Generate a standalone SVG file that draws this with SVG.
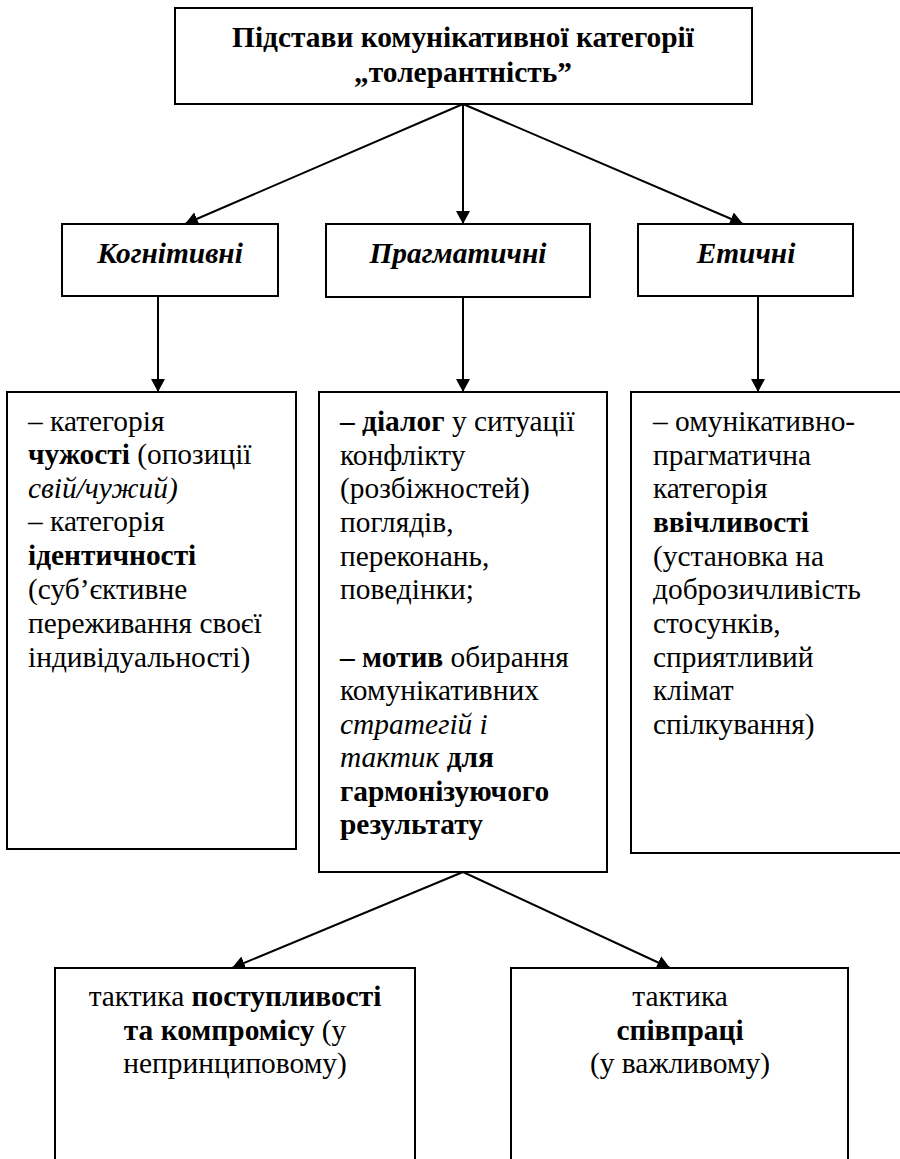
<svg xmlns="http://www.w3.org/2000/svg" width="900" height="1159" viewBox="0 0 900 1159">
<defs>
<marker id="ah" viewBox="0 0 13 14" refX="13" refY="7" markerWidth="13" markerHeight="14" markerUnits="userSpaceOnUse" orient="auto">
<path d="M0,0 L13,7 L0,14 z" fill="#000"/>
</marker>
<style>
.box{fill:#fff;stroke:#000;stroke-width:2}
text{font-family:'Liberation Serif','Times New Roman',serif;font-size:29.4px;fill:#000}
.b{font-weight:bold}
.i{font-style:italic}
.c{font-weight:bold;font-style:italic}
.m{text-anchor:middle}
.con{stroke:#000;stroke-width:2;fill:none;marker-end:url(#ah)}
</style>
</defs>
<rect width="900" height="1159" fill="#fff"/>
<g id="connectors">
<line class="con" x1="463" y1="104" x2="185" y2="224"/>
<line class="con" x1="463" y1="104" x2="463" y2="224"/>
<line class="con" x1="463" y1="104" x2="743" y2="224"/>
<line class="con" x1="158" y1="296" x2="158" y2="392"/>
<line class="con" x1="463" y1="297" x2="463" y2="392"/>
<line class="con" x1="758" y1="296" x2="758" y2="392"/>
<line class="con" x1="463" y1="872" x2="232" y2="968"/>
<line class="con" x1="463" y1="872" x2="670" y2="968"/>
</g>
<g id="root">
<rect class="box" x="175" y="8" width="577" height="96"/>
<text class="b m" x="463" y="47">Підстави комунікативної категорії</text>
<text class="b m" x="463" y="82">„толерантність”</text>
</g>
<g id="cognitive">
<rect class="box" x="62" y="224" width="216" height="72"/>
<text class="c m" x="170" y="263">Когнітивні</text>
</g>
<g id="pragmatic">
<rect class="box" x="326" y="224" width="264" height="73"/>
<text class="c m" x="458" y="263">Прагматичні</text>
</g>
<g id="ethical">
<rect class="box" x="638" y="224" width="215" height="72"/>
<text class="c m" x="746" y="263">Етичні</text>
</g>
<g id="cognitive-detail">
<rect class="box" x="7" y="392" width="289" height="457"/>
<text x="28" y="431">– категорія</text>
<text x="28" y="464"><tspan class="b">чужості</tspan> (опозиції</text>
<text x="28" y="498"><tspan class="i">свій/чужий)</tspan></text>
<text x="28" y="531">– категорія</text>
<text class="b" x="28" y="565">ідентичності</text>
<text x="28" y="599">(суб’єктивне</text>
<text x="28" y="633">переживання своєї</text>
<text x="28" y="667">індивідуальності)</text>
</g>
<g id="pragmatic-detail">
<rect class="box" x="319" y="392" width="288" height="480"/>
<text x="340" y="431"><tspan class="b">– діалог</tspan> у ситуації</text>
<text x="340" y="465">конфлікту</text>
<text x="340" y="498">(розбіжностей)</text>
<text x="340" y="532">поглядів,</text>
<text x="340" y="566">переконань,</text>
<text x="340" y="599">поведінки;</text>
<text x="340" y="667"><tspan class="b">– мотив</tspan> обирання</text>
<text x="340" y="700">комунікативних</text>
<text class="i" x="340" y="734">стратегій і</text>
<text x="340" y="767"><tspan class="i">тактик</tspan> <tspan class="b">для</tspan></text>
<text class="b" x="340" y="801">гармонізуючого</text>
<text class="b" x="340" y="834">результату</text>
</g>
<g id="ethical-detail">
<rect class="box" x="631" y="392" width="280" height="461"/>
<text x="653" y="431">– омунікативно-</text>
<text x="653" y="465">прагматична</text>
<text x="653" y="498">категорія</text>
<text class="b" x="653" y="532">ввічливості</text>
<text x="653" y="566">(установка на</text>
<text x="653" y="599">доброзичливість</text>
<text x="653" y="633">стосунків,</text>
<text x="653" y="667">сприятливий</text>
<text x="653" y="700">клімат</text>
<text x="653" y="734">спілкування)</text>
</g>
<g id="compromise">
<rect class="box" x="55" y="968" width="360" height="220"/>
<text class="m" x="235" y="1006">тактика <tspan class="b">поступливості</tspan></text>
<text class="m" x="235" y="1040"><tspan class="b">та компромісу</tspan> (у</text>
<text class="m" x="235" y="1073">непринциповому)</text>
</g>
<g id="cooperation">
<rect class="box" x="511" y="968" width="337" height="220"/>
<text class="m" x="680" y="1006">тактика</text>
<text class="m b" x="680" y="1040">співпраці</text>
<text class="m" x="680" y="1073">(у важливому)</text>
</g>
</svg>
